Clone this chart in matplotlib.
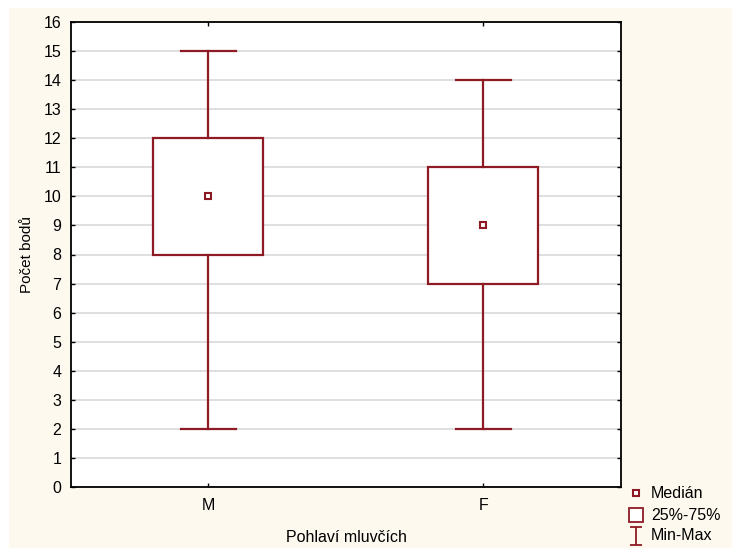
import matplotlib
matplotlib.use('Agg')
import matplotlib.pyplot as plt
from matplotlib.lines import Line2D
from matplotlib.patches import Rectangle
from matplotlib.path import Path

plt.rcParams['font.family'] = ['Liberation Sans', 'DejaVu Sans']

# data
groups = ['M', 'F']
minima = [2, 2]
q1 = [8, 7]
medians = [10, 9]
q3 = [12, 11]
maxima = [15, 14]
legend_labels = ['Medián', '25%-75%', 'Min-Max']

red = '#8E1B24'
W, H = 732, 548

fig = plt.figure(figsize=(W / 100, H / 100), dpi=100)
fig.patch.set_facecolor('white')
# cream background panel
fig.patches.append(Rectangle((9 / W, 0), 1, 1 - 8 / H, transform=fig.transFigure,
                             facecolor='#FDF9EF', edgecolor='none', zorder=-10))

ax = fig.add_axes([71 / W, 61 / H, 550 / W, 465 / H])
ax.set_facecolor('white')

stats = []
for i in range(len(groups)):
    stats.append(dict(med=medians[i], q1=q1[i], q3=q3[i],
                      whislo=minima[i], whishi=maxima[i], label=groups[i]))

pos = list(range(len(groups)))
ax.bxp(stats, positions=pos, widths=0.4, capwidths=0.2, showfliers=False,
       patch_artist=True,
       boxprops=dict(facecolor='white', edgecolor=red, linewidth=1.6),
       whiskerprops=dict(color=red, linewidth=1.6),
       capprops=dict(color=red, linewidth=1.6),
       medianprops=dict(linewidth=0),
       zorder=3)
ax.plot(pos, medians, ls='none', marker='s', ms=5, mfc='white', mec=red, mew=1.5, zorder=4)

ax.set_xlim(-0.5, 1.5)
ax.set_ylim(0, 16)
ax.set_yticks(range(0, 17))
ax.set_xticks(pos)
ax.set_xticklabels(groups)
ax.yaxis.grid(True, color='#D9D9D9', linewidth=1.2, zorder=0)
ax.set_axisbelow(True)

ax.tick_params(direction='in', length=3, width=1, top=True, right=True, labelsize=11.5)
ax.tick_params(axis='y', pad=7)
ax.tick_params(axis='x', pad=8)
for s in ax.spines.values():
    s.set_linewidth(1.3)

ax.set_ylabel('Počet bodů', fontsize=11)
ax.set_xlabel('Pohlaví mluvčích', fontsize=11.5)
ax.yaxis.set_label_coords(-0.068, 0.5)
ax.xaxis.set_label_coords(0.5, -0.092)

# legend, drawn by hand at pixel positions
cap = Path([(-0.7, -1), (0.7, -1), (0, -1), (0, 1), (-0.7, 1), (0.7, 1)],
           [Path.MOVETO, Path.LINETO, Path.MOVETO, Path.LINETO, Path.MOVETO, Path.LINETO])
leg_markers = [('s', 5, 1.5), ('s', 10, 1.3), (cap, 12.5, 1.3)]
leg_y = [493, 515, 536]
for (m, size, mw), y, lab in zip(leg_markers, leg_y, legend_labels):
    fig.add_artist(Line2D([636 / W], [1 - y / H], transform=fig.transFigure, ls='none',
                          marker=m, ms=size, mfc='white', mec=red, mew=mw))
    fig.text(651 / W, 1 - y / H, lab, fontsize=11.5, ha='left', va='center')

fig.savefig('out.png', dpi=100)
